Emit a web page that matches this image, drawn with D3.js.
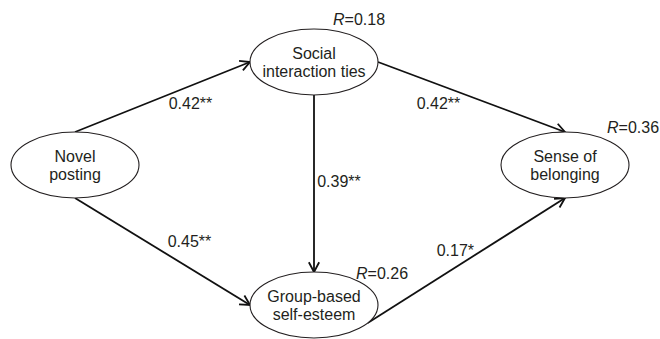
<!DOCTYPE html>
<html>
<head>
<meta charset="utf-8">
<script src="https://cdn.jsdelivr.net/npm/d3@7"></script>
<style>
  body { margin: 0; background: #fff; }
  svg text { font-family: "Liberation Sans", Arial, sans-serif; font-size: 16px; fill: #231f20; }
</style>
</head>
<body>
<script>
// data
const nodeNames = ["Novel posting", "Social interaction ties", "Group-based self-esteem", "Sense of belonging"];
const nodeLines = [["Novel", "posting"], ["Social", "interaction ties"], ["Group-based", "self-esteem"], ["Sense of", "belonging"]];
const rValues = [null, "0.18", "0.26", "0.36"];
const edgeFrom = [0, 1, 0, 1, 2];
const edgeTo = [1, 3, 2, 2, 3];
const coefficients = ["0.42**", "0.42**", "0.45**", "0.39**", "0.17*"];

// layout
const width = 660, height = 339;
const nodeCol = [0, 1, 1, 2], nodeRow = [1, 0, 2, 1];
const rx = 64, ry = 33;
const fromAngle = [-90, 0, 90, 90, 33], toAngle = [180, -90, 180, -90, 90];
const labelOff = [[28, 6], [-33, 6], [27, -11], [25, -3], [-11, -10]];
const rOff = [null, [19, -4], [42, 7], [42, 1]];

const xScale = d3.scaleLinear().domain([0, 1, 2]).range([75, 314, 565]);
const yScale = d3.scaleLinear().domain([0, 1, 2]).range([62, 165, 305]);

const nodes = nodeNames.map(function(n, i){
  return { name: n, lines: nodeLines[i], r: rValues[i], x: xScale(nodeCol[i]), y: yScale(nodeRow[i]) };
});

function anchor(n, deg){
  const a = deg * Math.PI / 180;
  return [n.x + rx * Math.cos(a), n.y + ry * Math.sin(a)];
}

const edges = edgeFrom.map(function(f, i){
  return { p0: anchor(nodes[f], fromAngle[i]), p1: anchor(nodes[edgeTo[i]], toAngle[i]), label: coefficients[i], off: labelOff[i] };
});

const svg = d3.select("body").append("svg")
  .attr("width", width)
  .attr("height", height);

// edges
svg.selectAll("line.edge")
  .data(edges)
  .enter()
  .append("line")
  .attr("class", "edge")
  .attr("x1", function(d){ return d.p0[0]; })
  .attr("y1", function(d){ return d.p0[1]; })
  .attr("x2", function(d){ return d.p1[0]; })
  .attr("y2", function(d){ return d.p1[1]; })
  .attr("stroke", "#111")
  .attr("stroke-width", 1.8);

// open arrowheads
svg.selectAll("path.head")
  .data(edges)
  .enter()
  .append("path")
  .attr("class", "head")
  .attr("d", function(d){
    const ang = Math.atan2(d.p1[1] - d.p0[1], d.p1[0] - d.p0[0]);
    const len = 11, spread = 28 * Math.PI / 180;
    const a = [d.p1[0] - len * Math.cos(ang - spread), d.p1[1] - len * Math.sin(ang - spread)];
    const b = [d.p1[0] - len * Math.cos(ang + spread), d.p1[1] - len * Math.sin(ang + spread)];
    return "M" + a + "L" + d.p1 + "L" + b;
  })
  .attr("fill", "none")
  .attr("stroke", "#111")
  .attr("stroke-width", 1.8);

svg.selectAll("text.coef")
  .data(edges)
  .enter()
  .append("text")
  .attr("class", "coef")
  .attr("text-anchor", "middle")
  .attr("x", function(d){ return (d.p0[0] + d.p1[0]) / 2 + d.off[0]; })
  .attr("y", function(d){ return (d.p0[1] + d.p1[1]) / 2 + d.off[1] + 6; })
  .text(function(d){ return d.label; });

// nodes
const g = svg.selectAll("g.node")
  .data(nodes)
  .enter()
  .append("g")
  .attr("class", "node")
  .attr("transform", function(d){ return "translate(" + d.x + "," + d.y + ")"; });

g.append("ellipse")
  .attr("rx", rx)
  .attr("ry", ry)
  .attr("fill", "#fff")
  .attr("stroke", "#231f20")
  .attr("stroke-width", 1.1);

g.selectAll("text.lbl")
  .data(function(d){ return d.lines; })
  .enter()
  .append("text")
  .attr("class", "lbl")
  .attr("text-anchor", "middle")
  .attr("y", function(d, i){ return -3 + i * 18; })
  .text(function(d){ return d; });

const rt = g.filter(function(d){ return d.r !== null; })
  .append("text")
  .attr("x", function(d, i){ return rOff[nodes.indexOf(d)][0]; })
  .attr("y", function(d){ return -ry + rOff[nodes.indexOf(d)][1]; });
rt.append("tspan").attr("font-style", "italic").text("R");
rt.append("tspan").text(function(d){ return "=" + d.r; });
</script>
</body>
</html>
